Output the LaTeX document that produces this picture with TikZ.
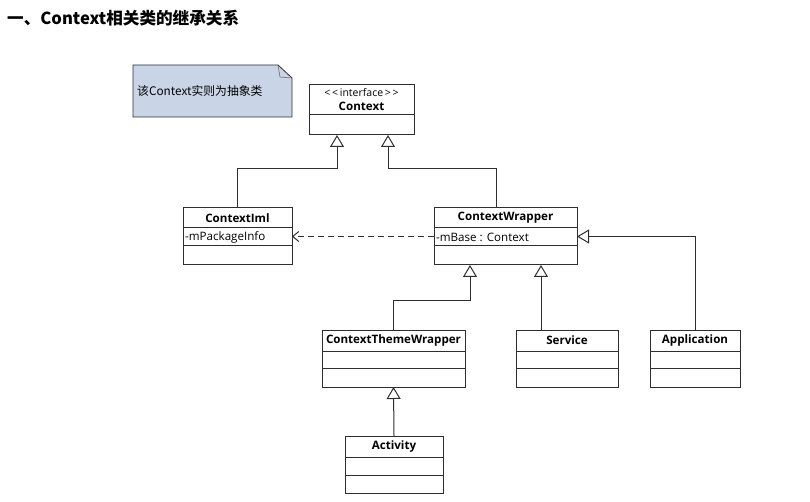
\documentclass[tikz,border=0pt]{standalone}
\usepackage{fontspec}
\setmainfont{Open Sans}
\newfontfamily\cjk{Noto Sans CJK SC}
\usetikzlibrary{arrows.meta,calc}
\definecolor{linec}{HTML}{2E2E2E}
\definecolor{notefill}{HTML}{C9D5E6}
\tikzset{
 box/.style={draw=linec, line width=1pt, fill=white, anchor=north west, inner sep=0pt, outer sep=0pt},
 inh/.style={draw=linec, line width=1pt, -{Triangle[open, width=14pt, length=12pt, line width=1pt]}},
 dep/.style={draw=linec, line width=1pt, dash pattern=on 6pt off 4pt, -{Straight Barb[length=6pt, width=10pt, line width=1pt]}},
 cname/.style={font=\bfseries\fontsize{11.6}{13}\selectfont, inner sep=0pt},
 attr/.style={font=\fontsize{11.6}{13}\selectfont, anchor=west, inner sep=0pt},
 sep/.style={draw=linec, line width=1pt}
}
\begin{document}
\begin{tikzpicture}[x=1pt,y=-1pt]
\useasboundingbox (0,0) rectangle (810,502);
% title
\node[anchor=west, inner sep=0pt] (title) at (7,18) {\cjk\bfseries\fontsize{16.6}{19}\selectfont 一、Context相关类的继承关系};
% note
\draw[draw=linec, line width=0.8pt, fill=notefill] (133,65) -- (278,65) -- (292,78) -- (292,117) -- (133,117) -- cycle;
\draw[draw=linec!70, line width=0.6pt] (278,65) -- (280,77) -- (292,78);
\node[anchor=west, inner sep=0pt] (notetext) at (137,91) {\cjk\fontsize{11.8}{14}\selectfont 该Context实则为抽象类};
% Context
\node[box, minimum width=105pt, minimum height=50pt] (ctx) at (309,85) {};
\draw[sep] ($(ctx.north west)+(0,30)$) -- ($(ctx.north east)+(0,30)$);
\node[font=\fontsize{10.5}{12}\selectfont, inner sep=0pt] (ctxst) at ($(ctx.north)+(0,8)$) {<\,<\,interface\,>\,>};
\node[cname] (ctxn) at ($(ctx.north)+(0,21)$) {Context};
% ContextIml
\node[box, minimum width=109pt, minimum height=57pt] (impl) at (183,208) {};
\draw[sep] ($(impl.north west)+(0,20)$) -- ($(impl.north east)+(0,20)$);
\draw[sep] ($(impl.north west)+(0,38)$) -- ($(impl.north east)+(0,38)$);
\node[cname] (impln) at ($(impl.north)+(0,10)$) {ContextIml};
\node[attr] (impla) at ($(impl.north west)+(2,29)$) {-mPackageInfo};
% ContextWrapper
\node[box, minimum width=143pt, minimum height=57pt] (wrap) at (434,208) {};
\draw[sep] ($(wrap.north west)+(0,20)$) -- ($(wrap.north east)+(0,20)$);
\draw[sep] ($(wrap.north west)+(0,38)$) -- ($(wrap.north east)+(0,38)$);
\node[cname] (wrapn) at ($(wrap.north)+(0,10)$) {ContextWrapper};
\node[attr] (wrapa) at ($(wrap.north west)+(2,29)$) {-mBase : Context};
% ContextThemeWrapper
\node[box, minimum width=143pt, minimum height=57pt] (ctw) at (322,330) {};
\draw[sep] ($(ctw.north west)+(0,21)$) -- ($(ctw.north east)+(0,21)$);
\draw[sep] ($(ctw.north west)+(0,38)$) -- ($(ctw.north east)+(0,38)$);
\node[cname] (ctwn) at ($(ctw.north)+(0,10)$) {ContextThemeWrapper};
% Service
\node[box, minimum width=102pt, minimum height=57pt] (svc) at (516,330) {};
\draw[sep] ($(svc.north west)+(0,21)$) -- ($(svc.north east)+(0,21)$);
\draw[sep] ($(svc.north west)+(0,38)$) -- ($(svc.north east)+(0,38)$);
\node[cname] (svcn) at ($(svc.north)+(0,10)$) {Service};
% Application
\node[box, minimum width=90pt, minimum height=57pt] (app) at (650,330) {};
\draw[sep] ($(app.north west)+(0,21)$) -- ($(app.north east)+(0,21)$);
\draw[sep] ($(app.north west)+(0,38)$) -- ($(app.north east)+(0,38)$);
\node[cname] (appn) at ($(app.north)+(0,10)$) {Application};
% Activity
\node[box, minimum width=98pt, minimum height=57pt] (act) at (345,436) {};
\draw[sep] ($(act.north west)+(0,21)$) -- ($(act.north east)+(0,21)$);
\draw[sep] ($(act.north west)+(0,39)$) -- ($(act.north east)+(0,39)$);
\node[cname] (actn) at ($(act.north)+(0,10)$) {Activity};
% connectors
\coordinate (ctxL) at ($(ctx.south west)+(28,0)$);
\coordinate (ctxR) at ($(ctx.south west)+(79,0)$);
\coordinate (wrapT) at ($(wrap.north west)+(62,0)$);
\coordinate (wrapL) at ($(wrap.south west)+(36,0)$);
\coordinate (wrapR) at ($(wrap.south west)+(107,0)$);
\coordinate (svcT) at ($(svc.north west)+(25,0)$);
\draw[inh] (impl.north) -- ++(0,-39) -| (ctxL);
\draw[inh] (wrapT) -- ++(0,-39) -| (ctxR);
\draw[inh] (app.north) |- (wrap.east);
\draw[dep] (wrap.west) -- (impl.east);
\draw[inh] (ctw.north) -- ++(0,-30) -| (wrapL);
\draw[inh] (svcT) -- (wrapR);
\draw[inh] (act.north) -- (ctw.south);
\end{tikzpicture}
\end{document}
